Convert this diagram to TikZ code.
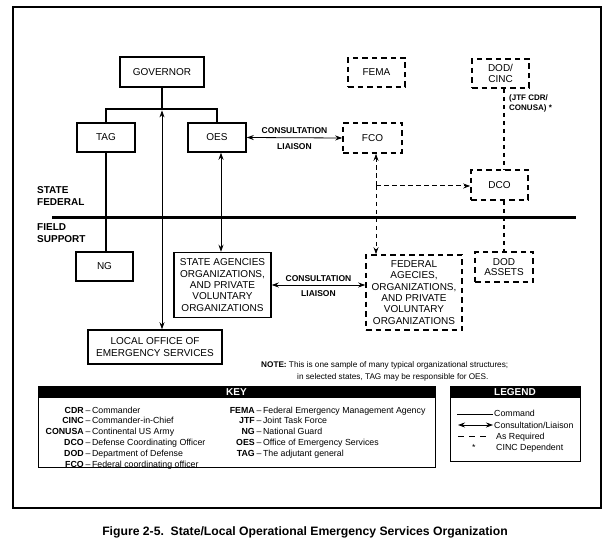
\documentclass[tikz,border=0pt]{standalone}
\usepackage{fontspec}
\setmainfont{Liberation Sans}
\usetikzlibrary{arrows.meta}
\begin{document}
\begin{tikzpicture}[x=1pt,y=-1pt,
  box/.style={draw,line width=1.5pt,inner sep=0pt,align=center,font=\fontsize{10}{11.3}\selectfont},
  dbox/.style={box,line width=1.6pt,dash pattern=on 5.5pt off 4pt},
  cmd/.style={line width=2.8pt},
  cl/.style={line width=0.8pt,{Stealth[length=7pt,width=5pt]}-{Stealth[length=7pt,width=5pt]}},
  asr/.style={line width=1pt,dash pattern=on 4.5pt off 3.5pt,-{Stealth[length=7pt,width=5pt]}},
  asrb/.style={line width=2pt,dash pattern=on 4pt off 4pt},
  lbl/.style={inner sep=0pt,font=\bfseries\fontsize{8.5}{10}\selectfont},
  sidelbl/.style={inner sep=0pt,anchor=west,align=left,font=\bfseries\fontsize{10}{12}\selectfont},
  keyab/.style={inner sep=0pt,anchor=base east,font=\bfseries\fontsize{8.8}{10.8}\selectfont},
  keytx/.style={inner sep=0pt,anchor=base west,font=\fontsize{8.8}{10.8}\selectfont},
  hdr/.style={fill=black,inner sep=0pt,anchor=north,text=white,font=\bfseries\fontsize{10}{10}\selectfont},
  notetx/.style={inner sep=0pt,anchor=base west,font=\fontsize{8.2}{10}\selectfont}
]
\useasboundingbox (0,0) rectangle (610,545);
\draw[line width=1.3pt] (13,7) rectangle (601,508);

% boxes
\node[box,minimum width=84pt,minimum height=30pt] (gov) at (162,72) {GOVERNOR};
\node[dbox,minimum width=57pt,minimum height=29pt] (fema) at (376.5,72.5) {FEMA};
\node[dbox,minimum width=57pt,minimum height=29pt,font=\fontsize{10}{10.5}\selectfont] (dodcinc) at (500.5,73.5) {DOD/\\CINC};
\node[box,minimum width=58pt,minimum height=29pt] (tag) at (106,137.5) {TAG};
\node[box,minimum width=58pt,minimum height=29pt] (oes) at (217,137.5) {OES};
\node[dbox,minimum width=59pt,minimum height=30pt] (fco) at (372.5,138) {FCO};
\node[dbox,minimum width=57pt,minimum height=30pt] (dco) at (499.5,185) {DCO};
\node[box,minimum width=57pt,minimum height=29pt] (ng) at (104.5,266.5) {NG};
\node[box,minimum width=97pt,minimum height=65pt] (state) at (222.5,285) {STATE AGENCIES\\ORGANIZATIONS,\\AND PRIVATE\\VOLUNTARY\\ORGANIZATIONS};
\node[dbox,minimum width=96pt,minimum height=75pt] (fed) at (414,292.5) {FEDERAL\\AGECIES,\\ORGANIZATIONS,\\AND PRIVATE\\VOLUNTARY\\ORGANIZATIONS};
\node[dbox,minimum width=58pt,minimum height=30pt,font=\fontsize{10}{10.5}\selectfont] (dodas) at (504,267) {DOD\\ASSETS};
\node[box,minimum width=134pt,minimum height=34pt,font=\fontsize{10}{11.7}\selectfont] (local) at (155,347) {LOCAL OFFICE OF\\EMERGENCY SERVICES};

% command lines
\coordinate (bar) at (162,109);
\draw[cmd] (tag.north) -- (tag.north |- bar) -- (oes.north |- bar) -- (oes.north);
\draw[cmd] (gov.south) -- (bar);
\draw[cmd] (tag.south) -- (tag.south |- ng.north);

% consultation / liaison
\draw[cl,shorten <=1.4pt] (bar) -- (bar |- local.north);
\draw[cl] ([xshift=4pt]oes.south) -- ([xshift=4pt]oes.south |- state.north);
\draw[cl] (oes.east) -- node[lbl,above=4pt]{CONSULTATION} node[lbl,below=5pt]{LIAISON} (fco.west);
\draw[cl] (state.east) -- node[lbl,above=3pt]{CONSULTATION} node[lbl,below=5pt]{LIAISON} (state.east -| fed.west);

% as required
\coordinate (fj) at (376,186);
\draw[asr] (fj) -- (fj |- fco.south);
\draw[asr] (fj) -- (fj |- fed.north);
\draw[asr] (fj) -- (fj -| dco.west);
\draw[asrb] ([xshift=3.5pt]dodcinc.south) -- ([xshift=3.5pt]dodcinc.south |- dco.north);
\draw[asrb] (dodas.north |- dco.south) -- (dodas.north);

\node[anchor=west,align=left,inner sep=0pt,font=\bfseries\fontsize{8}{10}\selectfont] (jtf) at (509,103) {(JTF CDR/\\CONUSA) *};

% state / federal line
\node[sidelbl] (sf) at (37,196) {STATE\\FEDERAL};
\node[sidelbl] (fs) at (37,233) {FIELD\\SUPPORT};
\coordinate (sfl) at (52,218);
\coordinate (sfr) at (576,218);
\draw[line width=3pt] (sfl) -- (sfr);

% note
\node[notetx] (note1) at (261,367) {\textbf{NOTE:} This is one sample of many typical organizational structures;};
\node[notetx] (note2) at (297,379) {in selected states, TAG may be responsible for OES.};

% key
\node[draw,line width=1pt,minimum width=397pt,minimum height=81pt,inner sep=0pt] (key) at (236.5,426.5) {};
\node[hdr,minimum width=397pt,minimum height=12pt] (keyh) at (key.north) {KEY};
\foreach \a/\t [count=\i] in {CDR/Commander,CINC/Commander-in-Chief,CONUSA/Continental US Army,DCO/Defense Coordinating Officer,DOD/Department of Defense,FCO/Federal coordinating officer}{
  \node[keyab] (ka\i) at (84,{413+10.8*(\i-1)}) {\a};
  \node[keytx] (kt\i) at (ka\i.base east) {\,–\,\t};
}
\foreach \a/\t [count=\i] in {FEMA/Federal Emergency Management Agency,JTF/Joint Task Force,NG/National Guard,OES/Office of Emergency Services,TAG/The adjutant general}{
  \node[keyab] (kb\i) at (255,{413+10.8*(\i-1)}) {\a};
  \node[keytx] (ku\i) at (kb\i.base east) {\,–\,\t};
}

% legend
\node[draw,line width=1pt,minimum width=130pt,minimum height=75pt,inner sep=0pt] (leg) at (515,423.5) {};
\node[hdr,minimum width=130pt,minimum height=12pt] (legh) at (leg.north) {LEGEND};
\coordinate (l1a) at (457,414); \coordinate (l1b) at (493,414);
\draw[line width=0.8pt] (l1a) -- (l1b);
\node[keytx] (lt1) at (494,416) {Command};
\coordinate (l2a) at (458,425); \coordinate (l2b) at (493,425);
\draw[cl] (l2a) -- (l2b);
\node[keytx] (lt2) at (494,428) {Consultation/Liaison};
\coordinate (l3a) at (458,436); \coordinate (l3b) at (487,436);
\draw[line width=1pt,dash pattern=on 6pt off 5pt] (l3a) -- (l3b);
\node[keytx] (lt3) at (496,439) {As Required};
\node[keytx] (ls4) at (472,450) {*};
\node[keytx] (lt4) at (496,450) {CINC Dependent};

% caption
\node[inner sep=0pt,font=\bfseries\fontsize{12.2}{14}\selectfont] (cap) at (305,532) {Figure 2-5.\ \ State/Local Operational Emergency Services Organization};
\end{tikzpicture}
\end{document}
